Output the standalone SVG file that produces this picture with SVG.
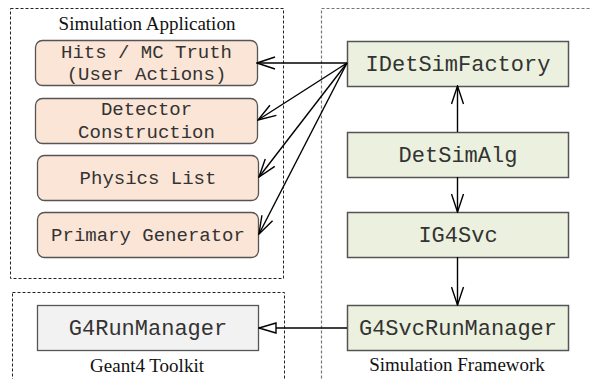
<svg xmlns="http://www.w3.org/2000/svg" width="591" height="379" viewBox="0 0 591 379">
<defs>
<style>
.cont{fill:none;stroke:#222;stroke-width:1;stroke-dasharray:3,2}
.contg{fill:none;stroke:#777;stroke-width:1.2;stroke-dasharray:3,2}
.app{fill:#fbe5d6;stroke:#555;stroke-width:1.3}
.fw{fill:#ebf1de;stroke:#555;stroke-width:1.5}
.g4{fill:#f2f2f2;stroke:#555;stroke-width:1.3}
.mono{font-family:"Liberation Mono","Courier New",monospace;fill:#333;text-anchor:middle}
.ttl{font-family:"Liberation Serif","Times New Roman",serif;font-size:19px;fill:#111;text-anchor:middle}
.ln{stroke:#000;stroke-width:1.4;fill:none}
</style>
<marker id="open" viewBox="0 0 20 14" refX="19" refY="7" markerWidth="20" markerHeight="14" markerUnits="userSpaceOnUse" orient="auto">
<path d="M1,1 L19,7 L1,13" fill="none" stroke="#000" stroke-width="1.4"/>
</marker>
<marker id="tri" viewBox="0 0 20 14" refX="19" refY="7" markerWidth="20" markerHeight="14" markerUnits="userSpaceOnUse" orient="auto">
<path d="M2,2 L19,7 L2,12 Z" fill="#fff" stroke="#000" stroke-width="1.4"/>
</marker>
</defs>
<rect width="591" height="379" fill="#fff"/>
<g id="containers">
<rect class="cont" x="10.5" y="8.5" width="273" height="270"/>
<rect class="cont" x="12.5" y="292.5" width="272" height="100"/>
<rect class="contg" x="321.5" y="8.5" width="290" height="390"/>
<text class="ttl" x="147" y="30">Simulation Application</text>
<text class="ttl" x="147" y="372">Geant4 Toolkit</text>
<text class="ttl" x="457" y="371">Simulation Framework</text>
</g>
<g id="hits">
<rect class="app" x="35.5" y="40.5" width="222" height="45" rx="7"/>
<text class="mono" font-size="19" x="146.5" y="58">Hits / MC Truth</text>
<text class="mono" font-size="19" x="146.5" y="80">(User Actions)</text>
</g>
<g id="detector">
<rect class="app" x="35.5" y="98.5" width="222" height="45" rx="7"/>
<text class="mono" font-size="19" x="146.5" y="115">Detector</text>
<text class="mono" font-size="19" x="146.5" y="138">Construction</text>
</g>
<g id="physics">
<rect class="app" x="37.5" y="155.5" width="221" height="45" rx="7"/>
<text class="mono" font-size="19" x="148" y="184">Physics List</text>
</g>
<g id="primary">
<rect class="app" x="37.5" y="212.5" width="221" height="45" rx="7"/>
<text class="mono" font-size="19" x="148" y="241">Primary Generator</text>
</g>
<g id="g4runmanager">
<rect class="g4" x="37.5" y="305.5" width="221" height="45"/>
<text class="mono" font-size="22" x="148" y="335">G4RunManager</text>
</g>
<g id="idetsimfactory">
<rect class="fw" x="347.5" y="41.5" width="221" height="45"/>
<text class="mono" font-size="22" x="458" y="71">IDetSimFactory</text>
</g>
<g id="detsimalg">
<rect class="fw" x="347.5" y="132.5" width="221" height="45"/>
<text class="mono" font-size="22" x="458" y="162">DetSimAlg</text>
</g>
<g id="ig4svc">
<rect class="fw" x="347.5" y="212.5" width="221" height="45"/>
<text class="mono" font-size="22" x="458" y="242">IG4Svc</text>
</g>
<g id="g4svcrunmanager">
<rect class="fw" x="347.5" y="305.5" width="221" height="45"/>
<text class="mono" font-size="22" x="458" y="335">G4SvcRunManager</text>
</g>
<g id="connectors">
<line class="ln" x1="347" y1="63" x2="257" y2="63" marker-end="url(#open)"/>
<line class="ln" x1="347" y1="63" x2="258" y2="120" marker-end="url(#open)"/>
<line class="ln" x1="347" y1="63" x2="259" y2="177" marker-end="url(#open)"/>
<line class="ln" x1="347" y1="63" x2="259" y2="234" marker-end="url(#open)"/>
<line class="ln" x1="457.5" y1="132" x2="457.5" y2="86" marker-end="url(#open)"/>
<line class="ln" x1="457.5" y1="177" x2="457.5" y2="212" marker-end="url(#open)"/>
<line class="ln" x1="457.5" y1="257" x2="457.5" y2="305" marker-end="url(#open)"/>
<line class="ln" x1="347" y1="328" x2="259" y2="328" marker-end="url(#tri)"/>
</g>
</svg>
